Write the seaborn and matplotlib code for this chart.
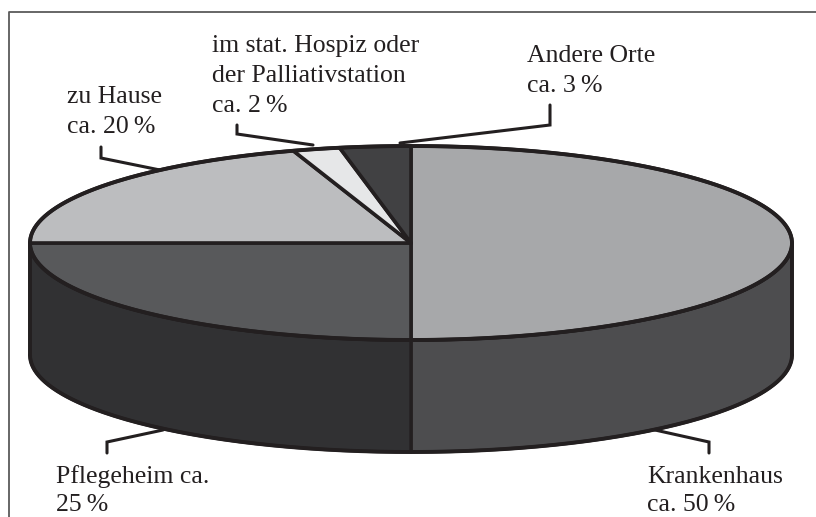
import numpy as np
import matplotlib.pyplot as plt
import seaborn as sns

sns.set_style("white")
plt.rcParams['font.family'] = ['Liberation Serif', 'DejaVu Serif']

# data: share of place of death, clockwise from 12 o'clock
places = ['Krankenhaus', 'Pflegeheim', 'zu Hause', 'Hospiz/Palliativ', 'Andere Orte']
shares = [50, 25, 20, 2, 3]
top_colors = ['#a7a8aa', '#58595b', '#bcbdbf', '#e6e7e8', '#414143']
side_colors = ['#4d4d4f', '#313133', '#8a8b8d', '#a0a1a3', '#2c2c2e']
labels = [
    ['Krankenhaus', 'ca. 50\u2009%'],
    ['Pflegeheim ca.', '25\u2009%'],
    ['zu Hause', 'ca. 20\u2009%'],
    ['im stat. Hospiz oder', 'der Palliativstation', 'ca. 2\u2009%'],
    ['Andere Orte', 'ca. 3\u2009%'],
]

# geometry of the tilted disc (pixel space, y down)
cx, cy, rx, ry, depth = 411, 243, 381, 97, 112
edge = '#231f20'


def rim(t):
    return cx + rx * np.sin(t), cy - ry * np.cos(t)


fig = plt.figure(figsize=(8.16, 5.17), dpi=100)
ax = fig.add_axes([0, 0, 1, 1])
ax.set_xlim(0, 816)
ax.set_ylim(517, 0)
ax.axis('off')

# frame
ax.plot([9, 9, 816], [517, 12, 12], color='#5a5a5a', lw=1.3, solid_capstyle='butt')

bounds = np.radians(np.concatenate([[0], np.cumsum(shares)]) * 3.6)

# side walls (only front half visible)
for i in range(len(shares)):
    a0, a1 = max(bounds[i], np.pi / 2), min(bounds[i + 1], 3 * np.pi / 2)
    if a1 <= a0:
        continue
    t = np.linspace(a0, a1, 120)
    x, y = rim(t)
    xs = np.concatenate([x, x[::-1]])
    ys = np.concatenate([y, y[::-1] + depth])
    ax.fill(xs, ys, color=side_colors[i], ec=edge, lw=2.4, joinstyle='round', zorder=2)

# top wedges
for i in range(len(shares)):
    t = np.linspace(bounds[i], bounds[i + 1], 200)
    x, y = rim(t)
    xs = np.concatenate([[cx], x, [cx]])
    ys = np.concatenate([[cy], y, [cy]])
    ax.fill(xs, ys, color=top_colors[i], ec=edge, lw=2.6, joinstyle='round', zorder=3)

# outer outline
t = np.linspace(0, 2 * np.pi, 400)
x, y = rim(t)
ax.plot(x, y, color=edge, lw=2.8, zorder=4)
t = np.linspace(np.pi / 2, 3 * np.pi / 2, 200)
x, y = rim(t)
ax.plot(x, y + depth, color=edge, lw=2.8, zorder=4)
ax.plot([cx + rx, cx + rx], [cy, cy + depth], color=edge, lw=2.8, zorder=4)
ax.plot([cx - rx, cx - rx], [cy, cy + depth], color=edge, lw=2.8, zorder=4)

# leader lines
leaders = [
    [(709, 453), (709, 442), (655, 430)],
    [(107, 453), (107, 442), (163, 430)],
    [(101, 147), (101, 158), (160, 170)],
    [(237, 125), (237, 134), (313, 145)],
    [(550, 105), (550, 125), (400, 143)],
]
for pts in leaders:
    px, py = zip(*pts)
    ax.plot(px, py, color=edge, lw=2.2, zorder=5, solid_joinstyle='miter')

# labels (left edge, first baseline, line step)
label_pos = [(647, 483, 28), (56, 483, 28), (67, 103, 30), (212, 52, 30), (527, 62, 30)]
for (lx, ly, step), lines in zip(label_pos, labels):
    for k, line in enumerate(lines):
        ax.text(lx, ly + k * step, line, fontsize=18.5, color='#231f20',
                ha='left', va='baseline')

fig.savefig('out.png', dpi=100)
